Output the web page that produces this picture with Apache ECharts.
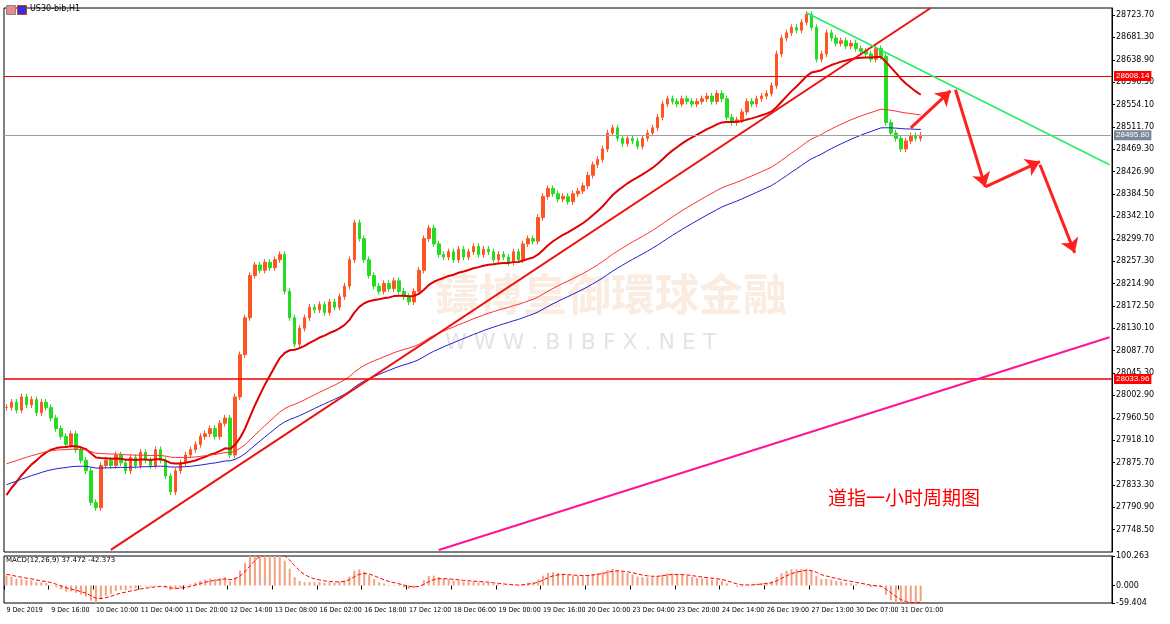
<!DOCTYPE html>
<html><head><meta charset="utf-8">
<script src="https://cdn.jsdelivr.net/npm/echarts@6/dist/echarts.min.js"></script>
<style>html,body{margin:0;padding:0;background:#fff}#c{width:1170px;height:624px}</style>
</head><body><div id="c"></div>
<script>
const timeLabels=["9 Dec 2019","9 Dec 16:00","10 Dec 10:00","11 Dec 04:00","11 Dec 20:00","12 Dec 14:00","13 Dec 08:00","16 Dec 02:00","16 Dec 18:00","17 Dec 12:00","18 Dec 06:00","19 Dec 00:00","19 Dec 16:00","20 Dec 10:00","23 Dec 04:00","23 Dec 20:00","24 Dec 14:00","26 Dec 19:00","27 Dec 13:00","30 Dec 07:00","31 Dec 01:00"];
const closes=[27980,27990,27975,28000,27985,27995,27970,27990,27980,27960,
27940,27925,27910,27930,27900,27880,27860,27800,27790,27870,
27880,27870,27890,27875,27860,27885,27870,27895,27880,27870,
27900,27880,27850,27820,27860,27875,27890,27900,27910,27925,
27930,27940,27925,27950,27960,27890,28000,28080,28150,28230,
28250,28240,28255,28245,28260,28270,28200,28150,28100,28130,
28150,28170,28165,28175,28160,28180,28170,28190,28210,28260,
28330,28300,28260,28230,28210,28200,28215,28205,28220,28200,
28190,28180,28200,28240,28300,28320,28290,28270,28265,28275,
28260,28280,28265,28275,28285,28270,28280,28275,28260,28270,
28265,28255,28275,28260,28290,28300,28295,28340,28380,28395,
28385,28375,28380,28370,28385,28390,28400,28420,28440,28450,
28470,28500,28510,28490,28480,28490,28485,28475,28490,28500,
28510,28530,28555,28565,28560,28555,28565,28560,28555,28560,
28565,28570,28560,28575,28565,28530,28520,28525,28540,28560,
28555,28565,28570,28575,28590,28650,28680,28690,28700,28695,
28710,28725,28700,28640,28650,28690,28680,28670,28675,28665,
28670,28660,28655,28650,28640,28660,28645,28520,28500,28490,
28470,28485,28495,28490,28496];
const priceTicks=[28723.70,28681.30,28638.90,28596.50,28554.10,28511.70,28469.30,28426.90,28384.50,28342.10,28299.70,28257.30,28214.90,28172.50,28130.10,28087.70,28045.30,28002.90,27960.50,27918.10,27875.70,27833.30,27790.90,27748.50];
const levelHigh=28608.14, levelLow=28033.96, lastPrice=28495.80;
const macdTicks=[-59.404,0,100.263];

const TOTAL=223, STEP=9;
const cats=[];for(let i=0;i<TOTAL;i++){const k=i/STEP;cats.push(i%STEP===0&&k<timeLabels.length?timeLabels[k]:' '.repeat(i+1));}
const isLab=(i)=>i%STEP===0&&i/STEP<timeLabels.length;
const candles=closes.map((c,i)=>{const o=i?closes[i-1]:c;const w=6;return [o,c,Math.min(o,c)-w,Math.max(o,c)+w];});
function ema(arr,n,seed){const k=2/(n+1);let e=seed;return arr.map(v=>(e=v*k+e*(1-k)));}
const ma1=ema(closes,25,27800),ma2=ema(closes,70,27870),ma3=ema(closes,85,27830);
const e12=ema(closes,6,27990),e26=ema(closes,13,27960);
const macd=e12.map((v,i)=>(v-e26[i])*1.4);const sig=ema(macd,5,40);
const ml=(a,b,c,w,arrow)=>[{coord:a,symbol:'none',lineStyle:{color:c,width:w,type:'solid'}},{coord:b,symbol:arrow?'arrow':'none',symbolSize:arrow?14:0}];
const chart=echarts.init(document.getElementById('c'));
const ff='Tahoma, "DejaVu Sans", sans-serif';
const cf='"DejaVu Sans Condensed", "Liberation Sans Narrow", sans-serif';
chart.setOption({animation:false,backgroundColor:'#fff',
grid:[{left:4,right:58,top:8,height:544,show:true,borderColor:'#000',borderWidth:1},{left:4,right:58,top:556,height:47,show:true,borderColor:'#000',borderWidth:1}],
xAxis:[{type:'category',data:cats,gridIndex:0,axisLabel:{show:false},axisTick:{show:false},axisLine:{show:false},boundaryGap:true},
{type:'category',data:cats,gridIndex:1,axisLine:{show:false},axisTick:{show:true,interval:(i)=>isLab(i),length:4,lineStyle:{color:'#000'}},axisLabel:{interval:(i)=>isLab(i),showMinLabel:true,hideOverlap:false,fontSize:7,fontFamily:cf,color:'#000',align:'left',margin:4},boundaryGap:true}],
yAxis:[{type:'value',gridIndex:0,position:'right',min:27706.1,max:28737,splitLine:{show:false},axisLine:{show:true,lineStyle:{color:'#000'}},axisTick:{show:true,length:3,customValues:priceTicks},axisLabel:{customValues:priceTicks,fontSize:8,fontFamily:ff,color:'#000',margin:4,formatter:v=>v.toFixed(2)}},
{type:'value',gridIndex:1,position:'right',min:-59.404,max:100.263,splitLine:{show:false},axisLine:{show:true,lineStyle:{color:'#000'}},axisTick:{show:true,length:3,customValues:macdTicks},axisLabel:{customValues:macdTicks,fontSize:8,fontFamily:ff,color:'#000',margin:4,formatter:v=>v.toFixed(3)}}],
series:[
{type:'candlestick',data:candles,barWidth:3,itemStyle:{color:'#ff5522',color0:'#22dd22',borderColor:'#ff5522',borderColor0:'#22dd22',borderWidth:1},
 markLine:{silent:true,animation:false,symbol:['none','none'],label:{show:false},data:[
  {yAxis:levelHigh,lineStyle:{color:'#ee0000',width:1.2,type:'solid'},label:{show:true,position:'end',formatter:levelHigh.toFixed(2),backgroundColor:'#ff0000',color:'#fff',fontSize:8,padding:[1,2],distance:2}},
  {yAxis:levelLow,lineStyle:{color:'#ee0000',width:1.5,type:'solid'},label:{show:true,position:'end',formatter:levelLow.toFixed(2),backgroundColor:'#ff0000',color:'#fff',fontSize:8,padding:[1,2],distance:2}},
  {yAxis:lastPrice,lineStyle:{color:'#a0a0a0',width:1,type:'solid'},label:{show:true,position:'end',formatter:lastPrice.toFixed(2),backgroundColor:'#7a8898',color:'#fff',fontSize:8,padding:[1,2],distance:2}},
  ml([21.3,27710],[186.2,28737],'#ee1111',2),
  ml([87.1,27710],[222,28113],'#ff1493',2),
  ml([160.8,28728],[222,28440],'#22ee66',1.5),
  ml([181.9,28510],[190.3,28580],'#ff2020',3,true),
  ml([191.3,28582],[197.4,28398],'#ff2020',3,true),
  ml([197.4,28398],[207.8,28446],'#ff2020',3,true),
  ml([208.4,28440],[214.9,28273],'#ff2020',3,true)
 ]}},
{type:'line',data:ma1,showSymbol:false,lineStyle:{color:'#e00000',width:2},z:3},
{type:'line',data:ma2,showSymbol:false,lineStyle:{color:'#ff3030',width:1},z:3},
{type:'line',data:ma3,showSymbol:false,lineStyle:{color:'#2020cc',width:1},z:3},
{type:'bar',xAxisIndex:1,yAxisIndex:1,data:macd,barWidth:2,itemStyle:{color:'#f4a080'}},
{type:'line',xAxisIndex:1,yAxisIndex:1,data:sig,showSymbol:false,lineStyle:{color:'#ff0000',width:1,type:'dashed'}}
],
graphic:[
 {type:'text',left:30,top:5,style:{text:'US30-bib,H1',fontSize:8,fontFamily:ff,fill:'#000'}},
 {type:'rect',left:6,top:5,shape:{width:9,height:9},style:{fill:'#e88',stroke:'#888'}},
 {type:'rect',left:17,top:5,shape:{width:9,height:9},style:{fill:'#33c',stroke:'#c33'}},
 {type:'text',left:6,top:557,style:{text:'MACD(12,26,9) 37.472 -42.373',fontSize:7,fontFamily:ff,fill:'#000'}},
 {type:'text',left:828,top:488,style:{text:'道指一小时周期图',fontSize:19,fontFamily:'"Noto Sans CJK SC"',fill:'#ff0000'}},
 {type:'text',left:435,top:272,z:0,style:{text:'鑄博皇御環球金融',fontSize:44,fontWeight:'bold',fontFamily:'"Noto Sans CJK TC"',fill:'rgba(240,200,170,0.35)'}},
 {type:'text',left:445,top:332,z:0,style:{text:'W W W . B I B F X . N E T',fontSize:22,fontFamily:'"DejaVu Sans"',fill:'rgba(200,200,200,0.5)'}}
]});
</script></body></html>
